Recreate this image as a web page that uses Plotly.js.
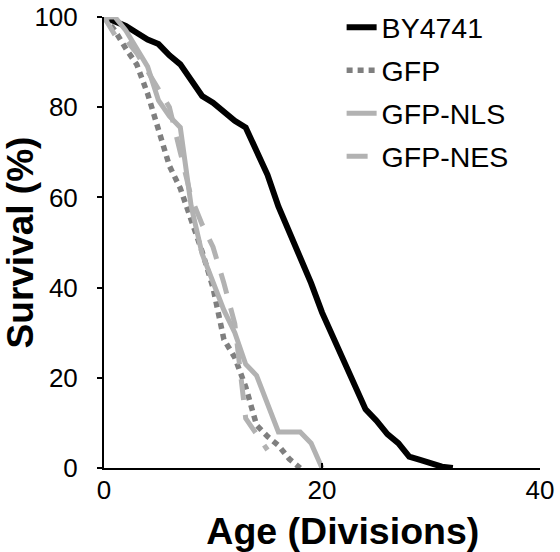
<!DOCTYPE html>
<html>
<head>
<meta charset="utf-8">
<script src="https://cdn.plot.ly/plotly-3.0.1.min.js"></script>
<style>html,body{margin:0;padding:0;background:#fff;}#chart{width:560px;height:552px;}</style>
</head>
<body>
<div id="chart"></div>
<script>
// Age in divisions and survival (%) for each strain
const ageBY4741 = [0,1,2,3,4,5,6,7,8,9,10,11,12,13,14,15,16,17,18,19,20,21,22,23,24,25,26,27,28,29,30,31,32];
const survBY4741 = [100,99,98,96.5,95,94,91.5,89.5,86,82.5,81,79,77,75.5,70,65,58,52.5,47,41,34.5,29,24,18,13,10.5,7.5,5.5,2.5,1.8,1,0.3,0];

const ageGFP = [0,1,2,3,4,5,6,7,8,9,10,11,12,13,14,15,16,17,18];
const survGFP = [100,97,93,89.5,83,74.5,67,62,55,48,40,28.5,24.5,18,9.5,7,5,2,0];

const ageNLS = [0,1,2,3,4,5,6,7,8,9,10,11,12,13,14,15,16,17,18,19,20];
const survNLS = [100,100,97,93,89,81.5,78,75.5,58,47.5,41,35,30,23,20.5,14.5,8,8,8,5.5,0];

const ageNES = [0,1,2,3,4,5,6,7,8,9,10,11,12,13,14,15];
const survNES = [100,96,95,92,88,84,80,70,60,54,49,41,32,11,7.5,4];

const seriesNames = ["BY4741","GFP","GFP-NLS","GFP-NES"];

const xTicks = [0,20,40];
const yTicks = [0,20,40,60,80,100];

const FONT = "Arial, 'Liberation Sans', sans-serif";

const traces = [
  {x: ageBY4741, y: survBY4741, name: seriesNames[0], legendgroup: "a",
   mode: "lines", line: {color: "#000000", width: 6}},
  {x: ageGFP, y: survGFP, name: seriesNames[1], legendgroup: "b",
   mode: "lines", line: {color: "#7f7f7f", width: 5.5, dash: "6px,5px"}},
  {x: ageNLS, y: survNLS, name: seriesNames[2], legendgroup: "c",
   mode: "lines", line: {color: "#b2b2b2", width: 5}},
  {x: ageNES, y: survNES, name: seriesNames[3], legendgroup: "d",
   mode: "lines", line: {color: "#b2b2b2", width: 5, dash: "21px,15px"}}
];

const layout = {
  width: 560, height: 552,
  margin: {l: 104, r: 20, t: 17, b: 84, pad: 0, autoexpand: false},
  paper_bgcolor: "#ffffff", plot_bgcolor: "#ffffff",
  font: {family: FONT, color: "#000000", size: 26},
  showlegend: true,
  legend: {x: 0.545, y: 1.033, xanchor: "left", yanchor: "top",
           font: {family: FONT, size: 28.5, color: "#000"},
           bgcolor: "rgba(0,0,0,0)", tracegroupgap: 3, itemwidth: 30},
  xaxis: {
    range: [0, 40], tickvals: xTicks, ticktext: xTicks.map(String),
    showgrid: false, zeroline: false, showline: true, linecolor: "#000", linewidth: 2,
    ticks: "inside", ticklen: 5, tickwidth: 2, tickcolor: "#000",
    tickfont: {family: FONT, size: 26, color: "#000"}, ticklabelstandoff: -2,
    automargin: false,
    title: {text: "<b>&nbsp;&nbsp;&nbsp;&nbsp;Age (Divisions)</b>", font: {family: FONT, size: 37.5, color: "#000"}, standoff: 18}
  },
  yaxis: {
    range: [0, 100], tickvals: yTicks, ticktext: yTicks.map(String),
    showgrid: false, zeroline: false, showline: true, linecolor: "#000", linewidth: 2,
    ticks: "outside", ticklen: 5, tickwidth: 2, tickcolor: "#000",
    tickfont: {family: FONT, size: 26, color: "#000"}, ticklabelstandoff: 14,
    automargin: false,
    title: {text: "<b>Survival (%)</b>", font: {family: FONT, size: 37, color: "#000"}, standoff: 0}
  }
};

Plotly.newPlot("chart", traces, layout, {displayModeBar: false, staticPlot: true});
</script>
</body>
</html>
